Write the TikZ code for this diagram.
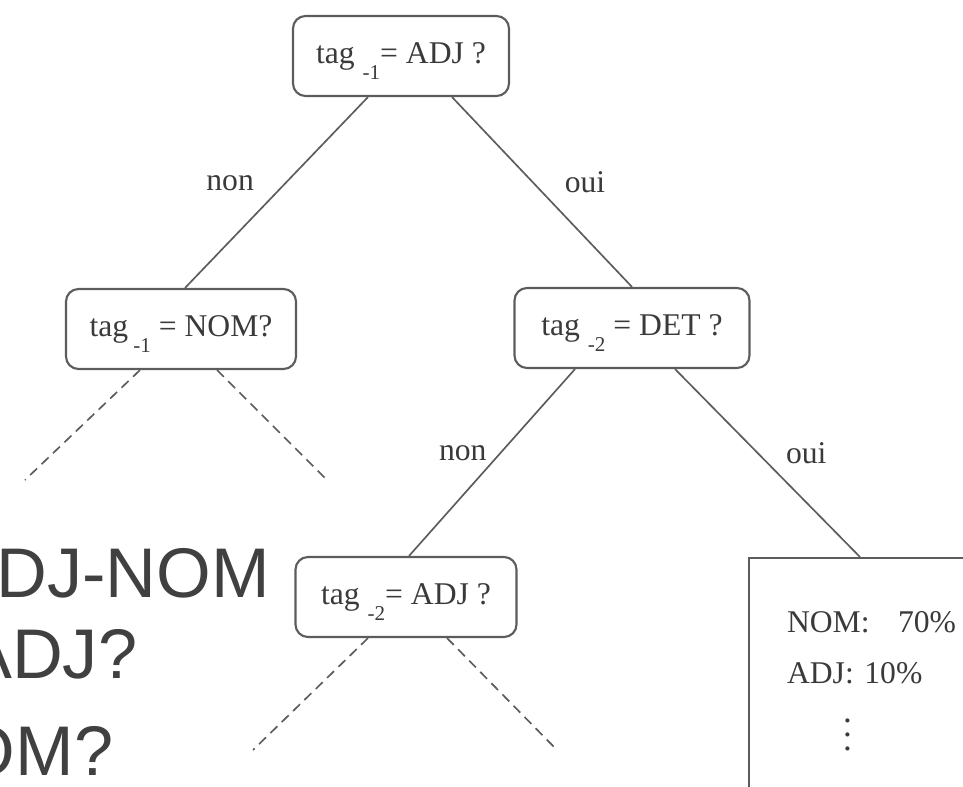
\documentclass[tikz,border=0pt]{standalone}
\usepackage{fontspec}
\setmainfont{Liberation Serif}
\newfontfamily\slidefont{Liberation Sans}
\usepackage{tikz}
\usetikzlibrary{positioning}

\definecolor{inkgray}{HTML}{3A3A3A}
\definecolor{linegray}{HTML}{5C5C5C}
\definecolor{slidegray}{HTML}{404040}

\newcommand{\tagsub}[1]{\raisebox{-9.6pt}[0pt][0pt]{\fontsize{12}{12}\selectfont #1}}

\tikzset{
  test/.style={draw=linegray, line width=1.2pt, rounded corners=0.25cm, minimum height=1.6cm,
    text=inkgray, font=\fontsize{18}{21}\selectfont, inner xsep=0.3cm},
  leafbox/.style={draw=linegray, line width=1.2pt, anchor=north west, text width=5cm, align=left,
    inner xsep=0.76cm, inner ysep=1.06cm, text=inkgray, font=\fontsize{18}{29.5}\selectfont},
  branch/.style={draw=linegray, line width=0.95pt},
  open/.style={branch, dash pattern=on 5.5pt off 3.5pt},
  lbl/.style={text=inkgray, font=\fontsize{18}{21}\selectfont, inner sep=0pt},
  slide/.style={text=slidegray, font=\slidefont\fontsize{40}{48}\selectfont, inner sep=0pt, anchor=base west}
}

\begin{document}
\begin{tikzpicture}
  \clip (0,0) rectangle (19.26,-15.74);

  % slide text behind the tree
  \draw (-0.08,-11.94) node[slide] (line1) {DJ-NOM};
  \draw (-0.70,-13.56) node[slide] (line2) {ADJ?};
  \draw (-0.79,-15.50) node[slide] (line3) {OM?};

  % tests
  \draw (8.02,-1.12) node[test, minimum width=4.32cm] (root) {tag \tagsub{-1}= ADJ ?};
  \draw (3.62,-6.58) node[test, minimum width=4.6cm] (nom) {tag\,\tagsub{-1} = NOM?};
  \draw (12.64,-6.56) node[test, minimum width=4.7cm] (det) {tag \tagsub{-2} = DET ?};
  \draw (8.12,-11.94) node[test, minimum width=4.42cm] (adj) {tag \tagsub{-2}= ADJ ?};

  % leaf
  \draw (14.96,-11.14) node[leafbox] (leaf) {NOM:\hspace{0.9em}70\%\\ ADJ: 10\%\\[6.8pt]
    \hspace{1.12cm}{\fontsize{10}{10}\selectfont\scalebox{2}{$\vdots$}}};

  \path[branch] ([xshift=-0.66cm]root.south) edge node[lbl, pos=0.45, left=0.62cm] {non} ([xshift=0.08cm]nom.north);
  \path[branch] ([xshift=1.02cm]root.south) edge node[lbl, pos=0.45, right=0.62cm] {oui} (det.north);
  \path[branch] ([xshift=-1.14cm]det.south) edge node[lbl, pos=0.45, left=0.26cm] {non} ([xshift=0.06cm]adj.north);
  \path[branch] ([xshift=0.86cm]det.south) edge node[lbl, pos=0.45, right=0.54cm] {oui} ([xshift=2.24cm]leaf.north west);

  % unexpanded subtrees
  \coordinate (nomL) at (0.5,-9.6);
  \coordinate (nomR) at (6.54,-9.6);
  \coordinate (adjL) at (5.06,-15.0);
  \coordinate (adjR) at (11.14,-15.0);
  \draw[open] ([xshift=-0.82cm]nom.south) -- (nomL);
  \draw[open] ([xshift=0.72cm]nom.south) -- (nomR);
  \draw[open] ([xshift=-0.76cm]adj.south) -- (adjL);
  \draw[open] ([xshift=0.82cm]adj.south) -- (adjR);

\end{tikzpicture}
\end{document}
